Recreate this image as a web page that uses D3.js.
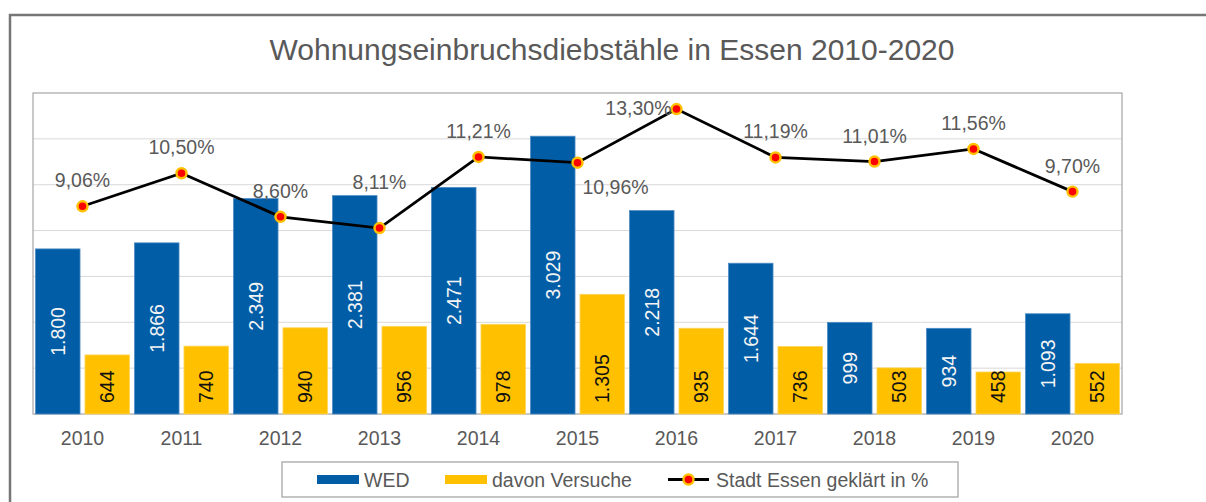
<!DOCTYPE html>
<html>
<head>
<meta charset="utf-8">
<script src="https://cdnjs.cloudflare.com/ajax/libs/d3/7.8.5/d3.min.js"></script>
<style>
  body { margin: 0; background: #fff; }
  text { font-family: "Liberation Sans", Arial, sans-serif; }
</style>
</head>
<body>
<script>
const years = ["2010", "2011", "2012", "2013", "2014", "2015", "2016", "2017", "2018", "2019", "2020"];
const wed = [1800, 1866, 2349, 2381, 2471, 3029, 2218, 1644, 999, 934, 1093];
const versuche = [644, 740, 940, 956, 978, 1305, 935, 736, 503, 458, 552];
const quote = [9.06, 10.5, 8.6, 8.11, 11.21, 10.96, 13.3, 11.19, 11.01, 11.56, 9.7];
// label placement per point (as moved by hand in the original)
const quotePos = ["above", "above", "above", "high", "above", "below", "left", "above", "above", "above", "above"];
const seriesNames = ["WED", "davon Versuche", "Stadt Essen geklärt in %"];

const width = 1206;
const height = 502;
const plot = { left: 33, top: 93, right: 1122, bottom: 414 };

const de = d3.formatLocale({ decimal: ",", thousands: ".", grouping: [3], currency: ["", " €"] });
const fmtInt = de.format(",d");
const fmtPct = (v) => de.format(".2f")(v) + "%";

const blue = "#005DA6";
const yellow = "#FFC000";
const grey = "#595959";
const fs = 19.5;

const svg = d3.select("body").append("svg")
  .attr("width", width)
  .attr("height", height);

// outer chart frame (cut off on right/bottom)
svg.append("rect")
  .attr("x", 10).attr("y", 15)
  .attr("width", 1220).attr("height", 520)
  .attr("fill", "none")
  .attr("stroke", "#767676")
  .attr("stroke-width", 2.5);

svg.append("text")
  .attr("x", 612).attr("y", 60)
  .attr("text-anchor", "middle")
  .attr("font-size", 30)
  .attr("fill", grey)
  .text("Wohnungseinbruchsdiebstähle in Essen 2010-2020");

const x = d3.scaleBand().domain(years).range([plot.left, plot.right]).padding(0);
const xSub = d3.scaleBand().domain(["wed", "vers"]).range([0, x.bandwidth()])
  .paddingInner(0.1).paddingOuter(0.05);
const y = d3.scaleLinear().domain([0, 3500]).range([plot.bottom, plot.top]);
const y2 = d3.scaleLinear().domain([0, 14]).range([plot.bottom, plot.top]);

// gridlines
svg.append("g")
  .selectAll("line")
  .data(y.ticks(7).filter((t) => t > 0 && t < 3500))
  .join("line")
  .attr("x1", plot.left).attr("x2", plot.right)
  .attr("y1", (d) => y(d)).attr("y2", (d) => y(d))
  .attr("stroke", "#d9d9d9")
  .attr("stroke-width", 1);

// plot frame
svg.append("rect")
  .attr("x", plot.left).attr("y", plot.top)
  .attr("width", plot.right - plot.left).attr("height", plot.bottom - plot.top)
  .attr("fill", "none")
  .attr("stroke", "#a6a6a6")
  .attr("stroke-width", 1.2);

const bars = svg.append("g");

bars.selectAll("rect.wed")
  .data(wed)
  .join("rect")
  .attr("class", "wed")
  .attr("x", (d, i) => x(years[i]) + xSub("wed"))
  .attr("y", (d) => y(d))
  .attr("width", xSub.bandwidth())
  .attr("height", (d) => y(0) - y(d))
  .attr("fill", blue)
  .attr("stroke", "#4f8cc4")
  .attr("stroke-width", 0.8);

bars.selectAll("rect.vers")
  .data(versuche)
  .join("rect")
  .attr("class", "vers")
  .attr("x", (d, i) => x(years[i]) + xSub("vers"))
  .attr("y", (d) => y(d))
  .attr("width", xSub.bandwidth())
  .attr("height", (d) => y(0) - y(d))
  .attr("fill", yellow)
  .attr("stroke", "#ffd65a")
  .attr("stroke-width", 0.8);

// bar labels
bars.selectAll("text.wed")
  .data(wed)
  .join("text")
  .attr("class", "wed")
  .attr("transform", (d, i) => {
    const cx = x(years[i]) + xSub("wed") + xSub.bandwidth() / 2;
    const cy = (y(d) + y(0)) / 2;
    return `translate(${cx},${cy}) rotate(-90)`;
  })
  .attr("text-anchor", "middle")
  .attr("dy", "0.35em")
  .attr("font-size", fs)
  .attr("fill", "#f4f4f4")
  .text((d) => fmtInt(d));

bars.selectAll("text.vers")
  .data(versuche)
  .join("text")
  .attr("class", "vers")
  .attr("transform", (d, i) => {
    const cx = x(years[i]) + xSub("vers") + xSub.bandwidth() / 2;
    return `translate(${cx},${y(0) - 11}) rotate(-90)`;
  })
  .attr("text-anchor", "start")
  .attr("dy", "0.35em")
  .attr("font-size", fs)
  .attr("fill", "#111")
  .text((d) => fmtInt(d));

// x labels
svg.append("g")
  .selectAll("text")
  .data(years)
  .join("text")
  .attr("x", (d) => x(d) + x.bandwidth() / 2)
  .attr("y", 445)
  .attr("text-anchor", "middle")
  .attr("font-size", fs)
  .attr("fill", grey)
  .text((d) => d);

// line series
const lineGen = d3.line()
  .x((d, i) => x(years[i]) + x.bandwidth() / 2)
  .y((d) => y2(d));

svg.append("path")
  .datum(quote)
  .attr("d", lineGen)
  .attr("fill", "none")
  .attr("stroke", "#000")
  .attr("stroke-width", 2.8);

svg.append("g")
  .selectAll("circle")
  .data(quote)
  .join("circle")
  .attr("cx", (d, i) => x(years[i]) + x.bandwidth() / 2)
  .attr("cy", (d) => y2(d))
  .attr("r", 5)
  .attr("fill", "#ff0000")
  .attr("stroke", yellow)
  .attr("stroke-width", 2.4);

svg.append("g")
  .selectAll("text")
  .data(quote)
  .join("text")
  .attr("font-size", fs)
  .attr("fill", grey)
  .each(function (d, i) {
    const el = d3.select(this);
    const cx = x(years[i]) + x.bandwidth() / 2;
    const cy = y2(d);
    const pos = quotePos[i];
    if (pos === "below") {
      el.attr("x", cx + 5).attr("y", cy + 31).attr("text-anchor", "start");
    } else if (pos === "left") {
      el.attr("x", cx - 5).attr("y", cy + 6).attr("text-anchor", "end");
    } else if (pos === "high") {
      el.attr("x", cx).attr("y", cy - 39).attr("text-anchor", "middle");
    } else {
      el.attr("x", cx).attr("y", cy - 19).attr("text-anchor", "middle");
    }
  })
  .text((d) => fmtPct(d));

// legend
const legend = svg.append("g");
legend.append("rect")
  .attr("x", 282).attr("y", 462)
  .attr("width", 676).attr("height", 35)
  .attr("fill", "#fff")
  .attr("stroke", "#a6a6a6")
  .attr("stroke-width", 1.3);

const ly = 479.5;
legend.append("rect").attr("x", 317).attr("y", ly - 4.5).attr("width", 42).attr("height", 9).attr("fill", blue);
legend.append("rect").attr("x", 445).attr("y", ly - 4.5).attr("width", 42).attr("height", 9).attr("fill", yellow);
legend.append("line").attr("x1", 668).attr("x2", 709).attr("y1", ly).attr("y2", ly)
  .attr("stroke", "#000").attr("stroke-width", 2.8);
legend.append("circle").attr("cx", 688.5).attr("cy", ly).attr("r", 5)
  .attr("fill", "#ff0000").attr("stroke", yellow).attr("stroke-width", 2.4);

legend.selectAll("text.lg")
  .data(seriesNames)
  .join("text")
  .attr("class", "lg")
  .attr("x", (d, i) => [364, 492, 716][i])
  .attr("y", ly + 7)
  .attr("font-size", fs)
  .attr("fill", grey)
  .text((d) => d);
</script>
</body>
</html>
